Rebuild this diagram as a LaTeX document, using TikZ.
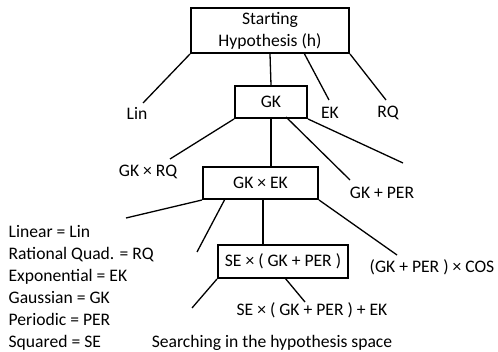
\documentclass[tikz,border=0pt]{standalone}
\usepackage{fontspec}
\setmainfont{Carlito}
\usetikzlibrary{positioning}

\begin{document}
\begin{tikzpicture}[x=0.5pt,y=-0.5pt,line width=0.65pt,
	every node/.style={font=\fontsize{8.8}{11}\selectfont},
	box/.style={draw,line width=1pt,inner sep=0pt,align=center},
	lbl/.style={inner sep=0pt}]
	
	\useasboundingbox (0,0) rectangle (498,352);
	
	% boxes
	\node (start) [box, minimum width=79pt, minimum height=22.5pt] at (270,30.5) {Starting\\Hypothesis (h)};
	\node (gk) [box, minimum width=36pt, minimum height=16pt] at (271,102) {GK};
	\node (gkek) [box, minimum width=57.5pt, minimum height=16pt] at (260.5,183) {GK × EK};
	\node (se) [box, minimum width=65pt, minimum height=16.5pt] at (283,261.5) {SE × ( GK + PER )};
	
	% labels
	\node (lin) [lbl] at (137,113) {Lin};
	\node (ek) [lbl] at (330,113) {EK};
	\node (rq) [lbl] at (388,113) {RQ};
	\node (gkrq) [lbl] at (148,172) {GK × RQ};
	\node (gkper) [lbl] at (382,193) {GK + PER};
	\node (cos) [lbl] at (432,267) {(GK + PER ) × COS};
	\node (seek) [lbl] at (312,310) {SE × ( GK + PER ) + EK};
	\node (title) [lbl] at (272,343) {Searching in the hypothesis space};
	\node (legend) [lbl, anchor=west, align=left] at (8,288) {Linear = Lin\\Rational Quad. = RQ\\Exponential = EK\\Gaussian = GK\\Periodic = PER\\Squared = SE};
	
	% free ends
	\coordinate (s1) at (304,53);
	\coordinate (g1) at (286,117);
	\coordinate (e1) at (225,199);
	\coordinate (e2) at (263,199);
	\coordinate (q1) at (285,278);
	\coordinate (linend) at (143,103);
	\coordinate (ekend) at (329,100);
	\coordinate (rqend) at (386,100);
	\coordinate (gkrqend) at (170,159);
	\coordinate (gkperend) at (350,180);
	\coordinate (gkx) at (403,163);
	\coordinate (ekx) at (126,218);
	\coordinate (eky) at (197,252);
	\coordinate (cosend) at (397,255);
	\coordinate (sex) at (192,308);
	\coordinate (seekend) at (305,302);
	
	\path [draw]
	(start.south west) edge (linend)
	(start.south) edge (gk.north)
	(s1) edge (ekend)
	(start.south east) edge (rqend)
	(gk.south west) edge (gkrqend)
	(gk.south) edge (gk.south |- gkek.north)
	(g1) edge (gkperend)
	(gk.south east) edge (gkx)
	(gkek.south west) edge (ekx)
	(e1) edge (eky)
	(e2) edge (e2 |- se.north)
	(gkek.south east) edge (cosend)
	(se.south west) edge (sex)
	(q1) edge (seekend);
	
\end{tikzpicture}
\end{document}
